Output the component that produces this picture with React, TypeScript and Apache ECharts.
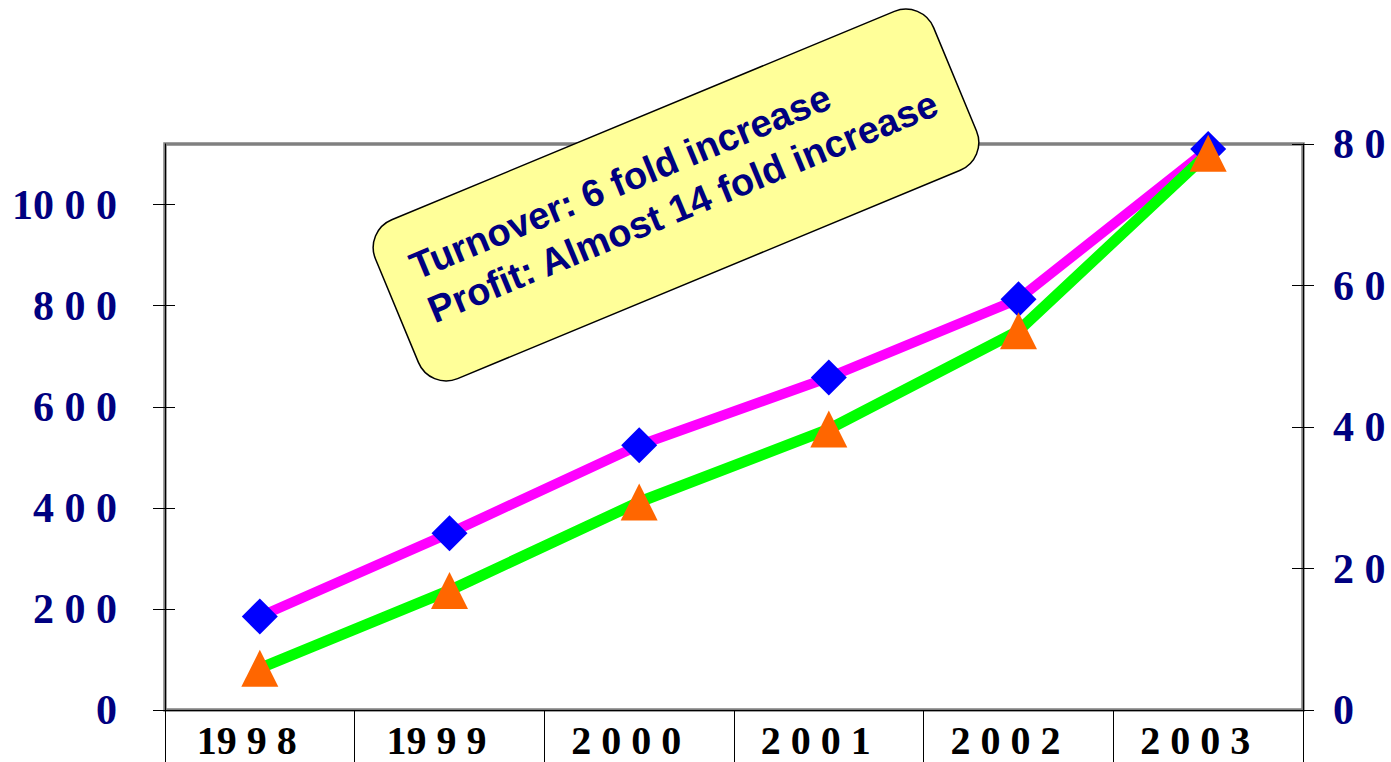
import React, { useEffect, useRef } from "react";
import * as echarts from "echarts";

const years = ["1998", "1999", "2000", "2001", "2002", "2003"];
const yearLabels = ["19 9 8", "19 9 9", "2 0 0 0", "2 0 0 1", "2 0 0 2", "2 0 0 3"];
const turnover = [185, 350, 524, 658, 813, 1110];
const profit = [5.9, 16.9, 29.4, 39.7, 53.6, 78.7];
const leftTicks = [0, 200, 400, 600, 800, 1000];
const leftTickLabels = ["0", "2 0 0", "4 0 0", "6 0 0", "8 0 0", "10 0 0"];
const rightTicks = [0, 20, 40, 60, 80];
const rightTickLabels = ["0", "2 0", "4 0", "6 0", "8 0"];
const noteLines = ["Turnover: 6 fold increase", "Profit: Almost 14 fold increase"];

const NAVY = "#000080";
const SERIF = "'Liberation Serif', 'Times New Roman', serif";
const SANS = "'Liberation Sans', Arial, sans-serif";

export default function App() {
  const ref = useRef<HTMLDivElement>(null);
  useEffect(() => {
    if (!ref.current) return;
    const chart = echarts.init(ref.current, null, { renderer: "svg" });
    const valueAxisBase = (pos: "left" | "right") => ({
      type: "value",
      position: pos,
      min: 0,
      splitLine: { show: false },
    });
    chart.setOption({
      animation: false,
      backgroundColor: "#ffffff",
      grid: {
        left: 165,
        right: 88,
        top: 144,
        bottom: 52,
        show: true,
        borderColor: "#808080",
        borderWidth: 3.5,
        backgroundColor: "transparent",
      },
      xAxis: {
        type: "category",
        data: years,
        boundaryGap: true,
        axisLine: { show: true, lineStyle: { color: "#000", width: 1 } },
        axisTick: { show: true, length: 60, lineStyle: { color: "#000", width: 1 } },
        axisLabel: {
          formatter: (v: string) => yearLabels[years.indexOf(v)],
          color: "#000",
          fontFamily: SERIF,
          fontWeight: "bold",
          fontSize: 40,
          lineHeight: 40,
          margin: 10,
          padding: [0, 26, 0, 0],
        },
      },
      yAxis: [
        {
          ...valueAxisBase("left"),
          max: 1120,
          interval: 200,
          axisLine: { show: true, lineStyle: { color: "#000", width: 1 } },
          axisTick: { show: true, length: 12, customValues: leftTicks, lineStyle: { color: "#000", width: 1 } },
          axisLabel: {
            customValues: leftTicks,
            formatter: (v: number) => leftTickLabels[leftTicks.indexOf(v)],
            color: NAVY,
            fontFamily: SERIF,
            fontWeight: "bold",
            fontSize: 42,
            margin: 48,
          },
        },
        {
          ...valueAxisBase("right"),
          max: 80,
          interval: 20,
          axisLine: { show: true, lineStyle: { color: "#000", width: 1 } },
          axisTick: { show: true, length: 11, customValues: rightTicks, lineStyle: { color: "#000", width: 1 } },
          axisLabel: {
            customValues: rightTicks,
            formatter: (v: number) => rightTickLabels[rightTicks.indexOf(v)],
            color: NAVY,
            fontFamily: SERIF,
            fontWeight: "bold",
            fontSize: 42,
            margin: 30,
          },
        },
        {
          ...valueAxisBase("left"),
          max: 1120,
          interval: 200,
          axisLine: { show: false },
          axisTick: { show: true, inside: true, length: 10, customValues: leftTicks, lineStyle: { color: "#000", width: 1 } },
          axisLabel: { show: false },
        },
        {
          ...valueAxisBase("right"),
          max: 80,
          interval: 20,
          axisLine: { show: false },
          axisTick: { show: true, inside: true, length: 11, customValues: rightTicks, lineStyle: { color: "#000", width: 1 } },
          axisLabel: { show: false },
        },
      ],
      series: [
        {
          name: "Turnover",
          type: "line",
          yAxisIndex: 0,
          data: turnover,
          lineStyle: { color: "#FF00FF", width: 10 },
          symbol: "diamond",
          symbolSize: 36,
          itemStyle: { color: "#0000FF" },
          z: 3,
        },
        {
          name: "Profit",
          type: "line",
          yAxisIndex: 1,
          data: profit,
          lineStyle: { color: "#00FF00", width: 11 },
          symbol: "triangle",
          symbolSize: 37,
          itemStyle: { color: "#FF6600" },
          z: 4,
        },
      ],
      graphic: [
        {
          type: "group",
          x: 676,
          y: 195,
          rotation: (22.5 * Math.PI) / 180,
          z: 100,
          children: [
            {
              type: "rect",
              shape: { x: -302, y: -86, width: 604, height: 172, r: 30 },
              style: { fill: "#FFFF99", stroke: "#000", lineWidth: 1.5 },
            },
            {
              type: "text",
              x: -272,
              y: -10,
              style: {
                text: noteLines.join("\n"),
                fontFamily: SANS,
                fontWeight: "bold",
                fontSize: 38,
                lineHeight: 47,
                fill: NAVY,
                align: "left",
                verticalAlign: "middle",
              },
            },
          ],
        },
      ],
    });
    return () => chart.dispose();
  }, []);
  return (
    <div
      ref={ref}
      style={{ position: "fixed", left: 0, top: 0, width: 1391, height: 762, background: "#fff" }}
    />
  );
}
